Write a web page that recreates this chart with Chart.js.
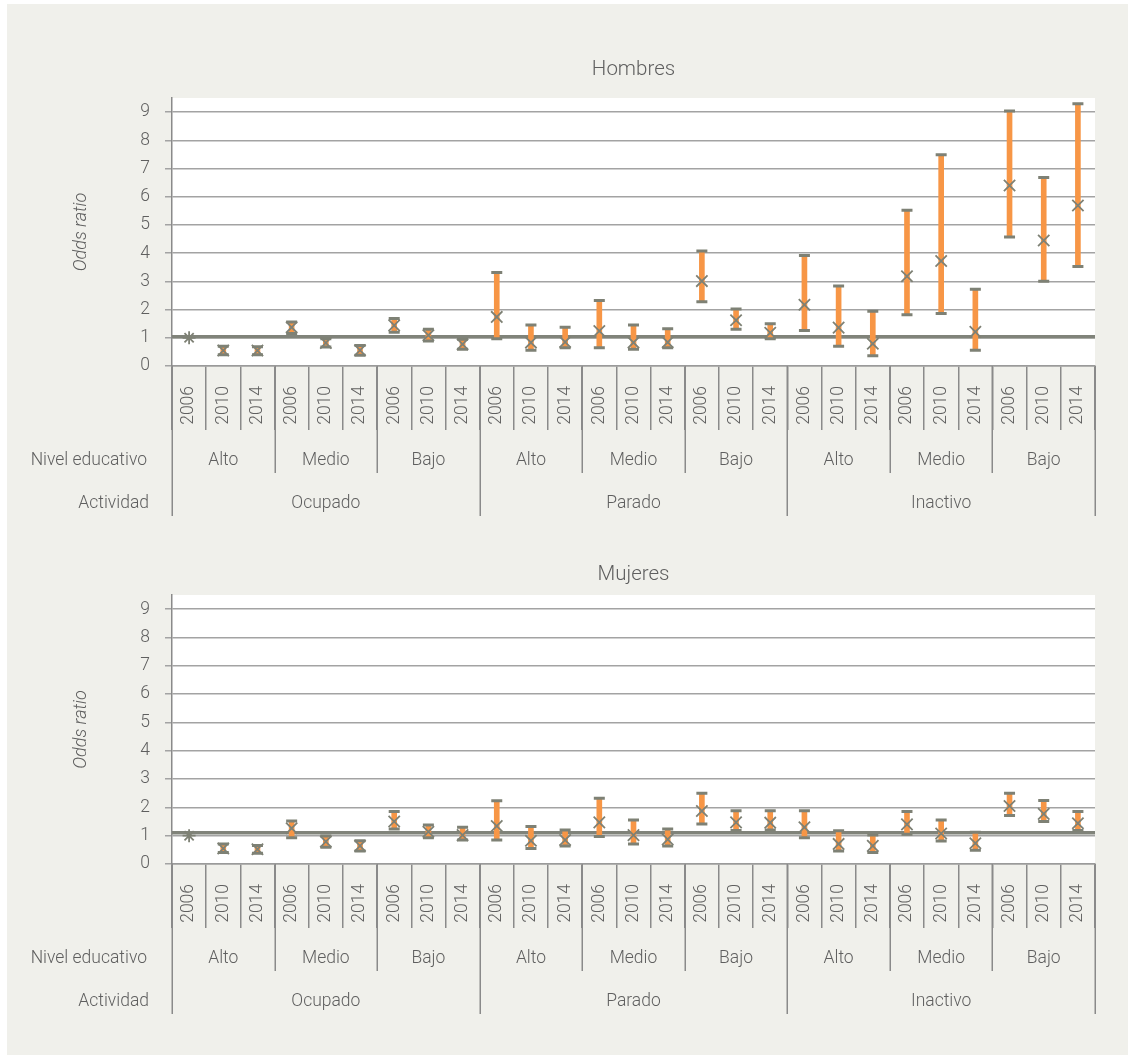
<!DOCTYPE html>
<html><head><meta charset="utf-8">
<script src="https://cdn.jsdelivr.net/npm/chart.js@4.4.1/dist/chart.umd.min.js"></script>
<style>
html,body{margin:0;padding:0;background:#fff;}
body{width:1134px;height:1059px;position:relative;overflow:hidden;}
#panel{position:absolute;left:7px;top:4px;width:1121px;height:1051px;background:#f0f0eb;}
#c1{position:absolute;left:0;top:0;}
#c2{position:absolute;left:0;top:540px;}
</style></head><body>
<div id="panel"></div>
<canvas id="c1" width="1134" height="540"></canvas>
<canvas id="c2" width="1134" height="519"></canvas>
<script>
// ---- data ----
const years = ['2006', '2010', '2014'];
const niveles = ['Alto', 'Medio', 'Bajo'];
const actividades = ['Ocupado', 'Parado', 'Inactivo'];
const rowHeaders = ['Nivel educativo', 'Actividad'];
const yTickValues = [0, 1, 2, 3, 4, 5, 6, 7, 8, 9];

const hombresOR   = [1.00, 0.55, 0.55, 1.37, 0.82, 0.56, 1.44, 1.09, 0.77, 1.74, 0.83, 0.85, 1.24, 0.83, 0.84, 3.01, 1.62, 1.18, 2.17, 1.36, 0.79, 3.18, 3.72, 1.21, 6.40, 4.45, 5.69];
const hombresLow  = [null, 0.40, 0.40, 1.15, 0.67, 0.38, 1.20, 0.89, 0.59, 0.97, 0.56, 0.65, 0.65, 0.59, 0.65, 2.28, 1.30, 0.97, 1.26, 0.70, 0.36, 1.82, 1.86, 0.56, 4.57, 3.00, 3.53];
const hombresHigh = [null, 0.70, 0.68, 1.56, 0.97, 0.73, 1.68, 1.30, 0.95, 3.31, 1.45, 1.37, 2.32, 1.45, 1.32, 4.08, 2.02, 1.50, 3.92, 2.84, 1.94, 5.52, 7.49, 2.72, 9.04, 6.68, 9.30];

const mujeresOR   = [1.00, 0.55, 0.52, 1.26, 0.79, 0.64, 1.50, 1.14, 1.02, 1.34, 0.82, 0.85, 1.47, 1.02, 0.87, 1.87, 1.47, 1.46, 1.30, 0.71, 0.64, 1.40, 1.08, 0.73, 2.05, 1.77, 1.44];
const mujeresLow  = [null, 0.41, 0.38, 0.93, 0.59, 0.46, 1.24, 0.93, 0.85, 0.85, 0.55, 0.64, 0.97, 0.71, 0.64, 1.41, 1.18, 1.20, 0.93, 0.46, 0.41, 1.05, 0.81, 0.49, 1.71, 1.50, 1.18];
const mujeresHigh = [null, 0.71, 0.65, 1.52, 0.99, 0.82, 1.85, 1.38, 1.30, 2.23, 1.32, 1.20, 2.32, 1.55, 1.24, 2.50, 1.88, 1.88, 1.88, 1.17, 1.02, 1.85, 1.55, 1.12, 2.50, 2.24, 1.85];

const hombresRef = 1.04;
const mujeresRef = 1.10;

// ---- build categories ----
const labels = [];
actividades.forEach(() => niveles.forEach(() => years.forEach(y => labels.push(y))));

const FONT = 'Roboto, "Open Sans", sans-serif';
const TXT = '#5f5f5f';
const GRAY = '#7e8175';
const ORANGE = '#f79646';

const groupPlugin = {
  id: 'groups',
  beforeDraw(chart) {
    const a = chart.chartArea, ctx = chart.ctx;
    ctx.save();
    ctx.fillStyle = '#ffffff';
    ctx.fillRect(a.left, a.top, a.right - a.left, a.bottom - a.top);
    ctx.restore();
  },
  beforeDatasetsDraw(chart) {
    const a = chart.chartArea, ctx = chart.ctx;
    const yv = chart.options.plugins.groups.refValue;
    const py = chart.scales.y.getPixelForValue(yv);
    ctx.save();
    ctx.strokeStyle = '#80837a';
    ctx.lineWidth = 3.5;
    ctx.beginPath();
    ctx.moveTo(a.left, py);
    ctx.lineTo(a.right, py);
    ctx.stroke();
    ctx.restore();
  },
  afterDraw(chart) {
    const ctx = chart.ctx, x = chart.scales.x, a = chart.chartArea;
    const w = x.getPixelForValue(1) - x.getPixelForValue(0);
    const base = a.bottom;
    const bnd = i => (i < labels.length ? x.getPixelForValue(i) - w / 2 : x.getPixelForValue(labels.length - 1) + w / 2);
    ctx.save();
    ctx.strokeStyle = '#8a8a8a';
    ctx.lineWidth = 1.5;
    for (let i = 0; i <= labels.length; i += 3) {
      const px = Math.round(bnd(i)) + 0.25;
      const len = (i % 9 === 0) ? 150 : 107;
      ctx.beginPath();
      ctx.moveTo(px, base);
      ctx.lineTo(px, base + len);
      ctx.stroke();
    }
    ctx.fillStyle = TXT;
    ctx.font = '300 17.5px ' + FONT;
    ctx.textAlign = 'center';
    ctx.textBaseline = 'middle';
    let g = 0;
    actividades.forEach((act, ai) => {
      niveles.forEach((niv, ni) => {
        const c = x.getPixelForValue(g * 3 + 1);
        ctx.fillText(niv, c, base + 95);
        g++;
      });
      const c2 = x.getPixelForValue(ai * 9 + 4);
      ctx.fillText(act, c2, base + 138);
    });
    ctx.textAlign = 'right';
    ctx.fillText(rowHeaders[0], 147, base + 95);
    ctx.fillText(rowHeaders[1], 149, base + 138);
    ctx.restore();
  }
};

function makeChart(id, title, orv, low, high, refValue, tPadTop, tPadBottom, xHeight) {
  const ranges = low.map((l, i) => (l === null ? null : [l, high[i]]));
  const styles = orv.map((v, i) => (i === 0 ? 'star' : 'crossRot'));
  const radii = orv.map((v, i) => (i === 0 ? 6.5 : 8));
  return new Chart(document.getElementById(id), {
    type: 'bar',
    data: {
      labels: labels,
      datasets: [
        { type: 'bar', data: ranges, backgroundColor: ORANGE, barThickness: 5, order: 3 },
        { type: 'line', data: high, showLine: false, pointStyle: 'line', pointRadius: 5.5, pointBorderWidth: 3, pointBorderColor: GRAY, order: 2 },
        { type: 'line', data: low, showLine: false, pointStyle: 'line', pointRadius: 5.5, pointBorderWidth: 3, pointBorderColor: GRAY, order: 2 },
        { type: 'line', data: orv, showLine: false, pointStyle: styles, pointRadius: radii, pointBorderWidth: 1.8, pointBorderColor: GRAY, order: 1 }
      ]
    },
    options: {
      responsive: false,
      animation: false,
      devicePixelRatio: 1,
      layout: { padding: { left: 0, right: 39, top: 0, bottom: 0 } },
      plugins: {
        legend: { display: false },
        tooltip: { enabled: false },
        title: {
          display: true, text: title, color: TXT, fullSize: false,
          font: { family: FONT, size: 20.5, weight: '300' },
          padding: { top: tPadTop, bottom: tPadBottom }
        },
        groups: { refValue: refValue }
      },
      scales: {
        x: {
          offset: true,
          grid: { offset: true, drawOnChartArea: false, drawTicks: true, tickLength: 64, color: '#8a8a8a', lineWidth: 1.5 },
          border: { display: true, color: '#9a9a9a', width: 1.5 },
          ticks: { autoSkip: false, minRotation: 90, maxRotation: 90, padding: -44, color: TXT, font: { family: FONT, size: 17.5, weight: '300' } },
          afterFit(s) { s.height = xHeight; }
        },
        y: {
          min: 0, max: 9.5,
          afterBuildTicks(s) { s.ticks = yTickValues.map(v => ({ value: v })); },
          grid: { color: '#a3a3a3', lineWidth: 1.5, drawTicks: true, tickLength: 7 },
          border: { display: true, color: '#8a8a8a', width: 1.5 },
          ticks: { padding: 15, color: TXT, font: { family: FONT, size: 17.5, weight: '300' } },
          title: { display: true, text: 'Odds ratio', color: TXT, font: { family: FONT, size: 18, weight: '300', style: 'italic' }, padding: { top: 71, bottom: 0 } },
          afterFit(s) { s.width = 172; }
        }
      }
    },
    plugins: [groupPlugin]
  });
}

makeChart('c1', 'Hombres', hombresOR, hombresLow, hombresHigh, hombresRef, 58, 15.4, 174);
makeChart('c2', 'Mujeres', mujeresOR, mujeresLow, mujeresHigh, mujeresRef, 23, 7.4, 195);
</script>
</body></html>
